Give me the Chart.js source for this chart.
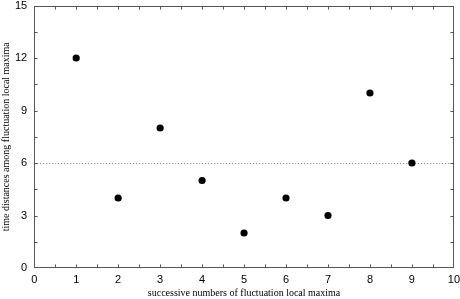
<!DOCTYPE html>
<html>
<head>
<meta charset="utf-8">
<script src="https://cdn.jsdelivr.net/npm/chart.js@4.4.0/dist/chart.umd.min.js"></script>
<style>
  html, body { margin: 0; padding: 0; background: #fff; }
  #wrap { width: 460px; height: 299px; }
</style>
</head>
<body>
<div id="wrap"><canvas id="myChart"></canvas></div>
<script>
"use strict";

// values
var maximaIndex = [1, 2, 3, 4, 5, 6, 7, 8, 9];
var timeDistances = [12, 4, 8, 5, 2, 4, 3, 10, 6];
var meanLevel = 6;
var xTicks = [0, 1, 2, 3, 4, 5, 6, 7, 8, 9, 10];
var yTicks = [0, 3, 6, 9, 12, 15];

var points = [];
for (var i = 0; i < maximaIndex.length; i++) {
  points.push({ x: maximaIndex[i], y: timeDistances[i] });
}

// frame, inward ticks and the dotted mean line
var framePlugin = {
  id: 'frame',
  beforeDatasetsDraw: function(chart) {
    var ctx = chart.ctx;
    var area = chart.chartArea;
    var xs = chart.scales.x;
    var ys = chart.scales.y;
    ctx.save();

    var yMean = Math.round(ys.getPixelForValue(meanLevel)) + 0.5;
    ctx.strokeStyle = '#777';
    ctx.lineWidth = 1;
    ctx.setLineDash([1, 2]);
    ctx.beginPath();
    ctx.moveTo(area.left, yMean);
    ctx.lineTo(area.right, yMean);
    ctx.stroke();
    ctx.setLineDash([]);

    ctx.strokeStyle = '#555';
    ctx.lineWidth = 1;
    var l = Math.round(area.left) + 0.5, r = Math.round(area.right) - 0.5;
    var t = Math.round(area.top) + 0.5, b = Math.round(area.bottom) - 0.5;
    ctx.strokeRect(l, t, r - l, b - t);

    ctx.beginPath();
    var v, px;
    for (v = 0.5; v < 10; v += 0.5) {
      px = Math.round(xs.getPixelForValue(v)) + 0.5;
      ctx.moveTo(px, b); ctx.lineTo(px, b - 3);
      ctx.moveTo(px, t); ctx.lineTo(px, t + 3);
    }
    for (v = 1.5; v < 15; v += 1.5) {
      px = Math.round(ys.getPixelForValue(v)) + 0.5;
      ctx.moveTo(l, px); ctx.lineTo(l + 3, px);
      ctx.moveTo(r, px); ctx.lineTo(r - 3, px);
    }
    ctx.stroke();
    ctx.restore();
  }
};

var ctx = document.getElementById('myChart').getContext('2d');
var chart = new Chart(ctx, {
  type: 'scatter',
  data: {
    datasets: [{
      data: points,
      backgroundColor: '#000',
      borderColor: '#000',
      borderWidth: 0,
      pointRadius: 3.6,
      pointHoverRadius: 3.6
    }]
  },
  options: {
    responsive: true,
    maintainAspectRatio: false,
    animation: false,
    layout: { padding: 0 },
    plugins: {
      legend: { display: false },
      tooltip: { enabled: false }
    },
    scales: {
      x: {
        type: 'linear',
        min: 0,
        max: 10,
        afterBuildTicks: function(scale) {
          scale.ticks = xTicks.map(function(v) { return { value: v }; });
        },
        // invisible tick length keeps the label gap without padding the chart sides
        grid: { display: false, drawTicks: true, tickLength: 6 },
        border: { display: false },
        ticks: {
          color: '#000',
          padding: 0,
          maxRotation: 0,
          font: { family: 'Arial, "Liberation Sans", sans-serif', size: 11, lineHeight: 1 }
        },
        title: {
          display: true,
          text: 'successive numbers of fluctuation local maxima',
          color: '#000',
          padding: { top: 2, bottom: 0 },
          font: { family: '"Times New Roman", "Liberation Serif", serif', size: 10 }
        }
      },
      y: {
        type: 'linear',
        min: 0,
        max: 15,
        afterBuildTicks: function(scale) {
          scale.ticks = yTicks.map(function(v) { return { value: v }; });
        },
        grid: { display: false, drawTicks: true, tickLength: 7 },
        border: { display: false },
        ticks: {
          color: '#000',
          padding: 0,
          font: { family: 'Arial, "Liberation Sans", sans-serif', size: 11, lineHeight: 1 }
        },
        title: {
          display: true,
          text: 'time distances among fluctuation local maxima',
          color: '#000',
          padding: { top: 0, bottom: 3 },
          font: { family: '"Times New Roman", "Liberation Serif", serif', size: 10 }
        }
      }
    }
  },
  plugins: [framePlugin]
});
</script>
</body>
</html>
